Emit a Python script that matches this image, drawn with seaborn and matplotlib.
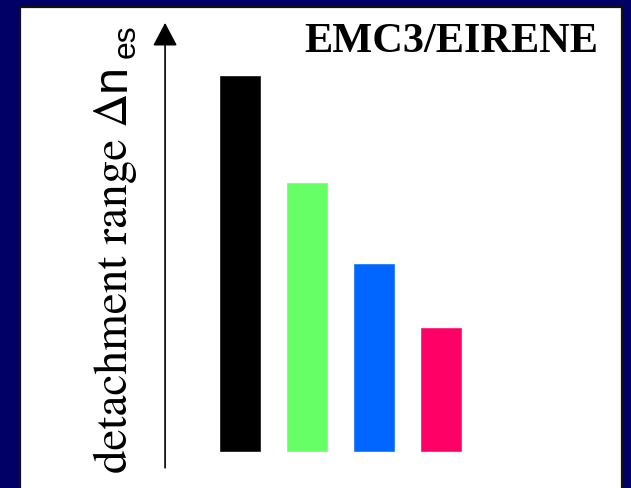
import pandas as pd
import seaborn as sns
import matplotlib.pyplot as plt

# relative detachment range per case (arbitrary units)
cases = ["case 1", "case 2", "case 3", "case 4"]
detachment_range = [3.77, 2.70, 1.89, 1.25]
bar_colors = ["#000000", "#66FF66", "#0066FF", "#FF0066"]

title_text = "EMC3/EIRENE"
# y label is drawn in three pieces: serif text, sans "n", sans subscript "es"
ylabel_text = "detachment range \u0394"
ylabel_symbol = "n"
ylabel_subscript = "es"


def plot_detachment_range(df):
    fig = plt.figure(figsize=(6.31, 4.88), dpi=100, facecolor="#000066")
    ax = fig.add_axes([20 / 631, 0, 602 / 631, 481 / 488])
    ax.set_facecolor("white")

    sns.barplot(data=df, x="case", y="range", hue="case", palette=bar_colors,
                width=0.63, legend=False, ax=ax, saturation=1)

    ax.set_xlim(-3.28, 5.70)
    ax.set_ylim(-0.36, 4.45)
    ax.set_xticks([])
    ax.set_yticks([])
    ax.set_xlabel("")

    for side in ["left", "top", "right"]:
        ax.spines[side].set_color("#111111")
        ax.spines[side].set_linewidth(1.6)
    ax.spines["bottom"].set_visible(False)

    # vertical arrow standing in for the y axis
    ax.annotate("", xy=(0.241, 0.967), xytext=(0.241, 0.042),
                xycoords="axes fraction",
                arrowprops=dict(arrowstyle="-|>,head_length=0.72,head_width=0.38",
                                mutation_scale=20, lw=1.2, color="black",
                                shrinkA=0, shrinkB=0))

    ax.set_ylabel(ylabel_text, fontsize=34, color="black",
                  family=["STIXGeneral", "DejaVu Serif"], ha="left", va="baseline")
    ax.yaxis.set_label_coords(0.1777, 0.0312)
    ax.text(0.1744, 0.8254, ylabel_symbol, transform=ax.transAxes,
            rotation=90, rotation_mode="anchor", ha="left", va="baseline",
            fontsize=35, color="black", family="Liberation Sans")
    ax.text(0.1910, 0.8940, ylabel_subscript, transform=ax.transAxes,
            rotation=90, rotation_mode="anchor", ha="left", va="baseline",
            fontsize=23, color="black", family="Liberation Sans")

    ax.text(0.96, 0.906, title_text, transform=ax.transAxes, ha="right",
            va="baseline", fontsize=30.5, fontweight="bold", color="black",
            family="Liberation Serif")

    fig.savefig("out.png", dpi=100, facecolor=fig.get_facecolor())


def main():
    sns.set_theme(style="white")
    plt.rcParams["font.family"] = ["Liberation Serif", "DejaVu Sans"]
    plt.rcParams["text.color"] = "black"

    df = pd.DataFrame({"case": cases, "range": detachment_range})
    plot_detachment_range(df)


if __name__ == "__main__":
    main()
